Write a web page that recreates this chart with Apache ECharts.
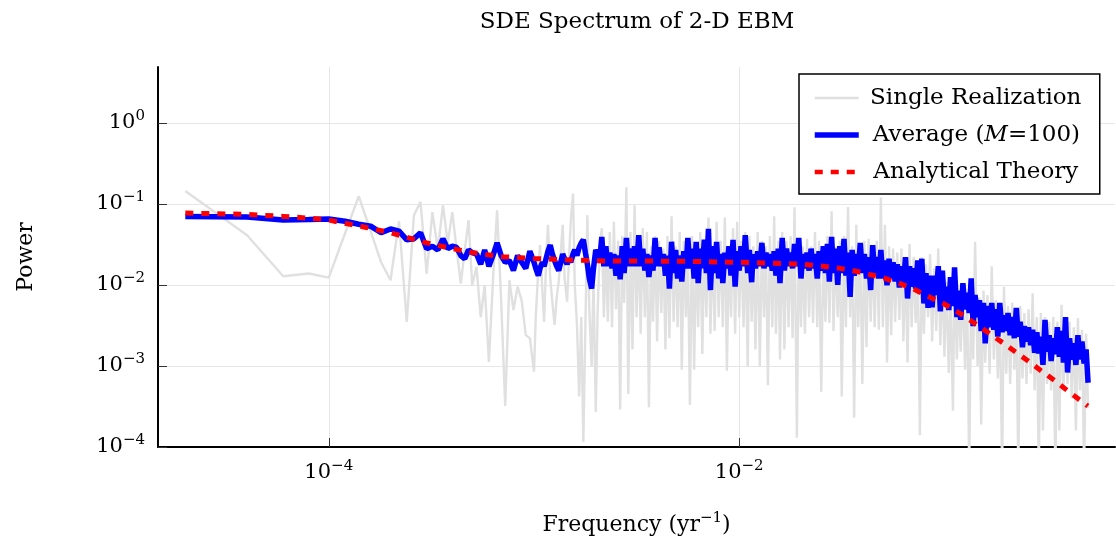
<!DOCTYPE html>
<html>
<head>
<meta charset="utf-8">
<title>SDE Spectrum of 2-D EBM</title>
<script src="https://cdn.jsdelivr.net/npm/echarts@6/dist/echarts.min.js"></script>
<style>
  html, body { margin: 0; padding: 0; background: #fff; }
  #chart { width: 1116px; height: 548px; }
</style>
</head>
<body>
<div id="chart"></div>
<script>
// frequencies (1/yr) shared by the single realization and the ensemble average
var freq = [
  2e-5, 4e-5, 6e-5, 8e-5, 1.0e-4, 1.2e-4, 1.4e-4, 1.6e-4, 1.8e-4, 2.0e-4,
  2.2e-4, 2.4e-4, 2.6e-4, 2.8e-4, 3.0e-4, 3.2e-4, 3.4e-4, 3.6e-4, 3.8e-4, 4.0e-4,
  4.2e-4, 4.4e-4, 4.6e-4, 4.8e-4, 5.0e-4,
  5.25e-4, 5.50e-4, 5.75e-4, 6.03e-4, 6.31e-4, 6.61e-4, 6.92e-4, 7.24e-4, 7.59e-4, 7.94e-4,
  8.32e-4, 8.71e-4, 9.12e-4, 9.55e-4,
  1.00e-3, 1.02e-3, 1.05e-3, 1.07e-3, 1.10e-3, 1.12e-3, 1.15e-3, 1.17e-3, 1.20e-3, 1.23e-3,
  1.26e-3, 1.29e-3, 1.32e-3, 1.35e-3, 1.38e-3, 1.41e-3, 1.45e-3, 1.48e-3, 1.51e-3, 1.55e-3,
  1.58e-3, 1.62e-3, 1.66e-3, 1.70e-3, 1.74e-3, 1.78e-3, 1.82e-3, 1.86e-3, 1.91e-3, 1.95e-3,
  2.00e-3, 2.04e-3, 2.09e-3, 2.14e-3, 2.19e-3, 2.24e-3, 2.29e-3, 2.34e-3, 2.40e-3, 2.45e-3,
  2.51e-3, 2.57e-3, 2.63e-3, 2.69e-3, 2.75e-3, 2.82e-3, 2.88e-3, 2.95e-3, 3.02e-3, 3.09e-3,
  3.16e-3, 3.24e-3, 3.31e-3, 3.39e-3, 3.47e-3, 3.55e-3, 3.63e-3, 3.72e-3, 3.80e-3, 3.89e-3,
  3.98e-3, 4.07e-3, 4.17e-3, 4.27e-3, 4.37e-3, 4.47e-3, 4.57e-3, 4.68e-3, 4.79e-3, 4.90e-3,
  5.01e-3, 5.13e-3, 5.25e-3, 5.37e-3, 5.50e-3, 5.62e-3, 5.75e-3, 5.89e-3, 6.03e-3, 6.17e-3,
  6.31e-3, 6.46e-3, 6.61e-3, 6.76e-3, 6.92e-3, 7.08e-3, 7.24e-3, 7.41e-3, 7.59e-3, 7.76e-3,
  7.94e-3, 8.13e-3, 8.32e-3, 8.51e-3, 8.71e-3, 8.91e-3, 9.12e-3, 9.33e-3, 9.55e-3, 9.77e-3,
  1.00e-2, 1.02e-2, 1.05e-2, 1.07e-2, 1.10e-2, 1.12e-2, 1.15e-2, 1.17e-2, 1.20e-2, 1.23e-2,
  1.26e-2, 1.29e-2, 1.32e-2, 1.35e-2, 1.38e-2, 1.41e-2, 1.45e-2, 1.48e-2, 1.51e-2, 1.55e-2,
  1.58e-2, 1.62e-2, 1.66e-2, 1.70e-2, 1.74e-2, 1.78e-2, 1.82e-2, 1.86e-2, 1.91e-2, 1.95e-2,
  2.00e-2, 2.04e-2, 2.09e-2, 2.14e-2, 2.19e-2, 2.24e-2, 2.29e-2, 2.34e-2, 2.40e-2, 2.45e-2,
  2.51e-2, 2.57e-2, 2.63e-2, 2.69e-2, 2.75e-2, 2.82e-2, 2.88e-2, 2.95e-2, 3.02e-2, 3.09e-2,
  3.16e-2, 3.24e-2, 3.31e-2, 3.39e-2, 3.47e-2, 3.55e-2, 3.63e-2, 3.72e-2, 3.80e-2, 3.89e-2,
  3.98e-2, 4.07e-2, 4.17e-2, 4.27e-2, 4.37e-2, 4.47e-2, 4.57e-2, 4.68e-2, 4.79e-2, 4.90e-2,
  5.01e-2, 5.13e-2, 5.25e-2, 5.37e-2, 5.50e-2, 5.62e-2, 5.75e-2, 5.89e-2, 6.03e-2, 6.17e-2,
  6.31e-2, 6.46e-2, 6.61e-2, 6.76e-2, 6.92e-2, 7.08e-2, 7.24e-2, 7.41e-2, 7.59e-2, 7.76e-2,
  7.94e-2, 8.13e-2, 8.32e-2, 8.51e-2, 8.71e-2, 8.91e-2, 9.12e-2, 9.33e-2, 9.55e-2, 9.77e-2,
  0.100, 0.102, 0.105, 0.107, 0.110, 0.112, 0.115, 0.117, 0.120, 0.123,
  0.126, 0.129, 0.132, 0.135, 0.138, 0.141, 0.145, 0.148, 0.151, 0.155,
  0.158, 0.162, 0.166, 0.170, 0.174, 0.178, 0.182, 0.186, 0.191, 0.195,
  0.200, 0.204, 0.209, 0.214, 0.219, 0.224, 0.229, 0.234, 0.240, 0.245,
  0.251, 0.257, 0.263, 0.269, 0.275, 0.282, 0.288, 0.295, 0.302, 0.309,
  0.316, 0.324, 0.331, 0.339, 0.347, 0.355, 0.363, 0.372, 0.380, 0.389,
  0.398, 0.407, 0.417, 0.427, 0.437, 0.447, 0.457, 0.468, 0.479, 0.490,
  0.501
];

// one realization of the SDE
var singlePower = [
  0.144, 0.041, 0.0128, 0.0138, 0.0123, 0.043, 0.124, 0.046, 0.019, 0.0114,
  0.061, 0.0035, 0.072, 0.106, 0.0138, 0.079, 0.027, 0.096, 0.033, 0.079,
  0.027, 0.0104, 0.027, 0.063, 0.0099,
  0.0167, 0.0040, 0.0099, 0.00112, 0.0114, 0.083, 0.0064, 0.00032, 0.0114, 0.0049,
  0.0095, 0.0064, 0.0024, 0.0022,
  0.00085, 0.0040, 0.016, 0.031, 0.0080, 0.0035, 0.025, 0.055, 0.012, 0.0060,
  0.0032, 0.0070, 0.011, 0.025, 0.055, 0.012, 0.0062, 0.020, 0.060, 0.134,
  0.010, 0.0032, 0.00042, 0.0040, 0.000115, 0.0030, 0.072, 0.0050, 0.00098, 0.012,
  0.00027, 0.0040, 0.030, 0.050, 0.0040, 0.030, 0.0035, 0.045, 0.0030, 0.060,
  0.0050, 0.035, 0.00029, 0.040, 0.0060, 0.16, 0.00045, 0.045, 0.0016, 0.096,
  0.0040, 0.035, 0.0025, 0.050, 0.0040, 0.045, 0.00031, 0.030, 0.0035, 0.040,
  0.0020, 0.035, 0.0045, 0.028, 0.0016, 0.040, 0.0022, 0.070, 0.0035, 0.030,
  0.0030, 0.045, 0.0009, 0.035, 0.0040, 0.030, 0.00033, 0.040, 0.0009, 0.030,
  0.0030, 0.045, 0.0014, 0.035, 0.0040, 0.068, 0.0025, 0.030, 0.0027, 0.060,
  0.0040, 0.035, 0.0030, 0.068, 0.00087, 0.030, 0.0040, 0.050, 0.0025, 0.060,
  0.0040, 0.035, 0.0030, 0.045, 0.00099, 0.040, 0.0035, 0.030, 0.0016, 0.045,
  0.00099, 0.035, 0.0040, 0.030, 0.00058, 0.040, 0.0030, 0.070, 0.0025, 0.035,
  0.0012, 0.045, 0.0016, 0.035, 0.0030, 0.040, 0.0022, 0.091, 0.00013, 0.035,
  0.0030, 0.030, 0.0025, 0.037, 0.0040, 0.030, 0.0034, 0.045, 0.0030, 0.035,
  0.00048, 0.030, 0.0035, 0.040, 0.0034, 0.081, 0.0027, 0.030, 0.0040, 0.035,
  0.00042, 0.040, 0.0030, 0.091, 0.0040, 0.030, 0.00023, 0.055, 0.0030, 0.030,
  0.0006, 0.035, 0.0017, 0.037, 0.0035, 0.028, 0.0030, 0.035, 0.0028, 0.12,
  0.0030, 0.055, 0.0011, 0.030, 0.0024, 0.028, 0.0035, 0.025, 0.0037, 0.028,
  0.0020, 0.022, 0.0011, 0.032, 0.0030, 0.022, 0.0034, 0.020, 0.00014, 0.022,
  0.0025, 0.018, 0.0040, 0.024, 0.0020, 0.016, 0.0027, 0.028, 0.0018, 0.015,
  0.0013, 0.011, 0.00082, 0.0090, 0.00028, 0.015, 0.0012, 0.0080, 0.0015, 0.010,
  0.0009, 0.0080, 0.00005, 0.010, 0.0012, 0.034, 0.0010, 0.0070, 0.00019, 0.0085,
  0.0011, 0.0075, 0.0008, 0.017, 0.0012, 0.0065, 0.0007, 0.0060, 0.00005, 0.0095,
  0.0008, 0.0055, 0.0006, 0.0060, 0.0009, 0.0050, 0.00005, 0.0055, 0.0007, 0.0045,
  0.0006, 0.0050, 0.0008, 0.0079, 0.0005, 0.0040, 0.00005, 0.0045, 0.00016, 0.0040,
  0.0006, 0.0035, 0.0005, 0.0040, 0.00005, 0.0035, 0.00016, 0.0057, 0.0005, 0.0030,
  0.0006, 0.0035, 0.0004, 0.0030, 0.00016, 0.0039, 0.0005, 0.0028, 0.00005, 0.0025,
  0.0003
];

// ensemble average over M=100 realizations
var avgPower = [
  0.070, 0.069, 0.063, 0.064, 0.065, 0.061, 0.056, 0.053, 0.044, 0.049,
  0.046, 0.036, 0.037, 0.044, 0.028, 0.030, 0.027, 0.037, 0.028, 0.030,
  0.029, 0.023, 0.021, 0.027, 0.025,
  0.024, 0.018, 0.027, 0.017, 0.023, 0.033, 0.023, 0.019, 0.020, 0.015,
  0.023, 0.019, 0.016, 0.026,
  0.019, 0.016, 0.013, 0.016, 0.019, 0.017, 0.022, 0.026, 0.031, 0.024,
  0.020, 0.017, 0.015, 0.019, 0.024, 0.021, 0.018, 0.021, 0.019, 0.024,
  0.027, 0.023, 0.029, 0.033, 0.036, 0.025, 0.018, 0.012, 0.0090, 0.016,
  0.027, 0.024, 0.020, 0.039, 0.017, 0.030, 0.017, 0.025, 0.016, 0.024,
  0.013, 0.023, 0.0117, 0.030, 0.014, 0.038, 0.017, 0.028, 0.017, 0.030,
  0.017, 0.041, 0.017, 0.028, 0.015, 0.024, 0.0125, 0.023, 0.015, 0.038,
  0.017, 0.029, 0.017, 0.024, 0.013, 0.023, 0.0090, 0.034, 0.014, 0.027,
  0.012, 0.023, 0.011, 0.026, 0.016, 0.038, 0.016, 0.028, 0.012, 0.034,
  0.0105, 0.028, 0.016, 0.036, 0.014, 0.049, 0.0086, 0.030, 0.014, 0.034,
  0.012, 0.024, 0.0105, 0.025, 0.016, 0.030, 0.013, 0.036, 0.0095, 0.026,
  0.015, 0.030, 0.017, 0.041, 0.014, 0.027, 0.0108, 0.024, 0.016, 0.026,
  0.017, 0.033, 0.016, 0.025, 0.017, 0.024, 0.015, 0.026, 0.013, 0.028,
  0.0105, 0.038, 0.015, 0.028, 0.017, 0.025, 0.016, 0.032, 0.017, 0.038,
  0.012, 0.024, 0.016, 0.025, 0.015, 0.028, 0.016, 0.024, 0.012, 0.026,
  0.015, 0.030, 0.014, 0.032, 0.011, 0.039, 0.014, 0.028, 0.010, 0.030,
  0.014, 0.037, 0.013, 0.025, 0.0071, 0.027, 0.013, 0.024, 0.015, 0.033,
  0.014, 0.024, 0.012, 0.022, 0.0086, 0.031, 0.013, 0.022, 0.012, 0.027,
  0.012, 0.020, 0.0099, 0.021, 0.012, 0.019, 0.011, 0.018, 0.0093, 0.017,
  0.010, 0.022, 0.0068, 0.017, 0.0095, 0.016, 0.0090, 0.020, 0.0078, 0.021,
  0.0059, 0.014, 0.0052, 0.013, 0.0053, 0.013, 0.0075, 0.017, 0.0047, 0.015,
  0.0058, 0.0095, 0.0049, 0.0125, 0.0055, 0.0165, 0.0040, 0.0085, 0.0037, 0.0105,
  0.0050, 0.0080, 0.0045, 0.0120, 0.0031, 0.0075, 0.0040, 0.0065, 0.0027, 0.0060,
  0.0019, 0.0055, 0.0030, 0.0060, 0.0028, 0.0050, 0.0023, 0.0060, 0.0026, 0.0042,
  0.0027, 0.0045, 0.0024, 0.0040, 0.0022, 0.0052, 0.0023, 0.0035, 0.0017, 0.0031,
  0.0020, 0.0030, 0.0018, 0.0028, 0.00145, 0.0026, 0.00142, 0.0023, 0.00103, 0.0037,
  0.0015, 0.0024, 0.00115, 0.0022, 0.0014, 0.0030, 0.0013, 0.0027, 0.0011, 0.0040,
  0.00083, 0.0022, 0.0012, 0.0019, 0.00103, 0.0024, 0.0012, 0.0020, 0.00107, 0.0016,
  0.00062
];

// analytical spectrum
var theoryFreq = [
  2e-5, 4e-5, 6e-5, 8e-5, 1e-4, 1.5e-4, 2e-4, 3e-4, 4e-4, 5e-4,
  7e-4, 1e-3, 1.5e-3, 2e-3, 3e-3, 5e-3, 1e-2, 1.5e-2, 2e-2, 2.5e-2,
  3e-2, 3.5e-2, 4e-2, 5e-2, 6e-2, 7e-2, 8e-2, 0.1, 0.12, 0.15,
  0.2, 0.25, 0.3, 0.35, 0.4, 0.45, 0.5
];
var theoryPower = [
  0.077, 0.074, 0.070, 0.0665, 0.063, 0.0515, 0.044, 0.033, 0.028, 0.025,
  0.0223, 0.0212, 0.0203, 0.0198, 0.0197, 0.0196, 0.0190, 0.0185, 0.0180, 0.0171,
  0.0162, 0.0152, 0.0141, 0.0123, 0.0105, 0.0090, 0.0076, 0.0058, 0.0044, 0.0030,
  0.0018, 0.0012, 0.00085, 0.00064, 0.00049, 0.00039, 0.00032
];

// decade ticks (log10 exponents)
var xTickExp = [-4, -2];
var yTickExp = [-4, -3, -2, -1, 0];

var FONT = 'DejaVu Serif';

function toLog(xs, ys) {
  return xs.map(function (x, i) { return [Math.log10(x), Math.log10(ys[i])]; });
}
function powLabel(v) {
  var e = Math.round(v);
  return '{b|10}{s|' + (e < 0 ? '\u2212' + (-e) : e) + '}';
}
var tickRich = {
  b: { fontFamily: FONT, fontSize: 21, lineHeight: 28, color: '#000' },
  s: { fontFamily: FONT, fontSize: 15, lineHeight: 16, verticalAlign: 'top', color: '#000' }
};

var chart = echarts.init(document.getElementById('chart'), null, { renderer: 'canvas' });

var option = {
  animation: false,
  backgroundColor: '#fff',
  graphic: [{
    type: 'text',
    x: 637,
    y: 22,
    style: {
      text: 'SDE Spectrum of 2-D EBM',
      font: '23px "DejaVu Serif"',
      fill: '#000',
      align: 'center',
      verticalAlign: 'middle',
      textAlign: 'center',
      textVerticalAlign: 'middle'
    }
  }],
  grid: { left: 158, right: 1, top: 67, bottom: 101 },
  legend: {
    orient: 'vertical',
    left: 799,
    top: 74,
    itemWidth: 44,
    itemHeight: 26,
    itemGap: 11,
    padding: [11, 17, 9, 13],
    borderColor: '#000',
    borderWidth: 1.5,
    backgroundColor: '#fff',
    itemStyle: { opacity: 0 },
    textStyle: {
      fontFamily: FONT, fontSize: 23, color: '#000', lineHeight: 26, padding: [0, 0, 0, 5],
      rich: {
        t: { fontFamily: FONT, fontSize: 23, lineHeight: 26, width: 214, align: 'center', color: '#000' },
        a: { fontFamily: FONT, fontSize: 23, lineHeight: 26, color: '#000', padding: [0, 0, 0, 4] },
        c: { fontFamily: FONT, fontSize: 23, lineHeight: 26, color: '#000' },
        i: { fontFamily: FONT, fontSize: 23, lineHeight: 26, fontStyle: 'italic', color: '#000' }
      }
    },
    formatter: function (name) {
      if (name === 'Average (M=100)') return '{a|Average (}{i|M}{c|=100)}';
      return '{t|' + name + '}';
    },
    data: [
      { name: 'Single Realization', lineStyle: { width: 2.5 } },
      { name: 'Average (M=100)', lineStyle: { width: 5.5 } },
      { name: 'Analytical Theory', lineStyle: { width: 4.5 } }
    ]
  },
  xAxis: {
    type: 'value',
    min: -4.832,
    max: -0.169,
    name: '{b|Frequency (yr}{s|\u22121}{b|)}',
    nameLocation: 'middle',
    nameGap: 64,
    nameTextStyle: {
      rich: {
        b: { fontFamily: FONT, fontSize: 22, lineHeight: 28, color: '#000' },
        s: { fontFamily: FONT, fontSize: 15, lineHeight: 16, verticalAlign: 'top', color: '#000' }
      }
    },
    axisLine: { onZero: false, lineStyle: { color: '#000', width: 2 } },
    axisTick: { inside: true, length: 9, customValues: xTickExp, lineStyle: { color: '#333' } },
    axisLabel: { customValues: xTickExp, margin: 12, formatter: powLabel, rich: tickRich },
    splitLine: { show: true, lineStyle: { color: '#e6e6e6', width: 1 } }
  },
  yAxis: {
    type: 'value',
    min: -4,
    max: 0.688,
    name: 'Power',
    nameLocation: 'middle',
    nameRotate: 90,
    nameGap: 121,
    nameTextStyle: { fontFamily: FONT, fontSize: 22, color: '#000' },
    axisLine: { onZero: false, lineStyle: { color: '#000', width: 2 } },
    axisTick: { inside: true, length: 9, customValues: yTickExp, lineStyle: { color: '#333' } },
    axisLabel: { customValues: yTickExp, margin: 13, formatter: powLabel, rich: tickRich },
    splitLine: { show: true, lineStyle: { color: '#e6e6e6', width: 1 } }
  },
  series: [
    {
      name: 'Single Realization',
      type: 'line',
      data: toLog(freq, singlePower),
      symbol: 'none',
      clip: true,
      z: 2,
      itemStyle: { color: '#e0e0e0' },
      lineStyle: { color: '#e0e0e0', width: 2.4 }
    },
    {
      name: 'Average (M=100)',
      type: 'line',
      data: toLog(freq, avgPower),
      symbol: 'none',
      clip: true,
      z: 3,
      itemStyle: { color: '#0000ff' },
      lineStyle: { color: '#0000ff', width: 5.5 }
    },
    {
      name: 'Analytical Theory',
      type: 'line',
      data: toLog(theoryFreq, theoryPower),
      symbol: 'none',
      clip: true,
      z: 4,
      itemStyle: { color: '#ff0000' },
      lineStyle: { color: '#ff0000', width: 5, type: [8, 8] }
    }
  ]
};

chart.setOption(option);
</script>
</body>
</html>
